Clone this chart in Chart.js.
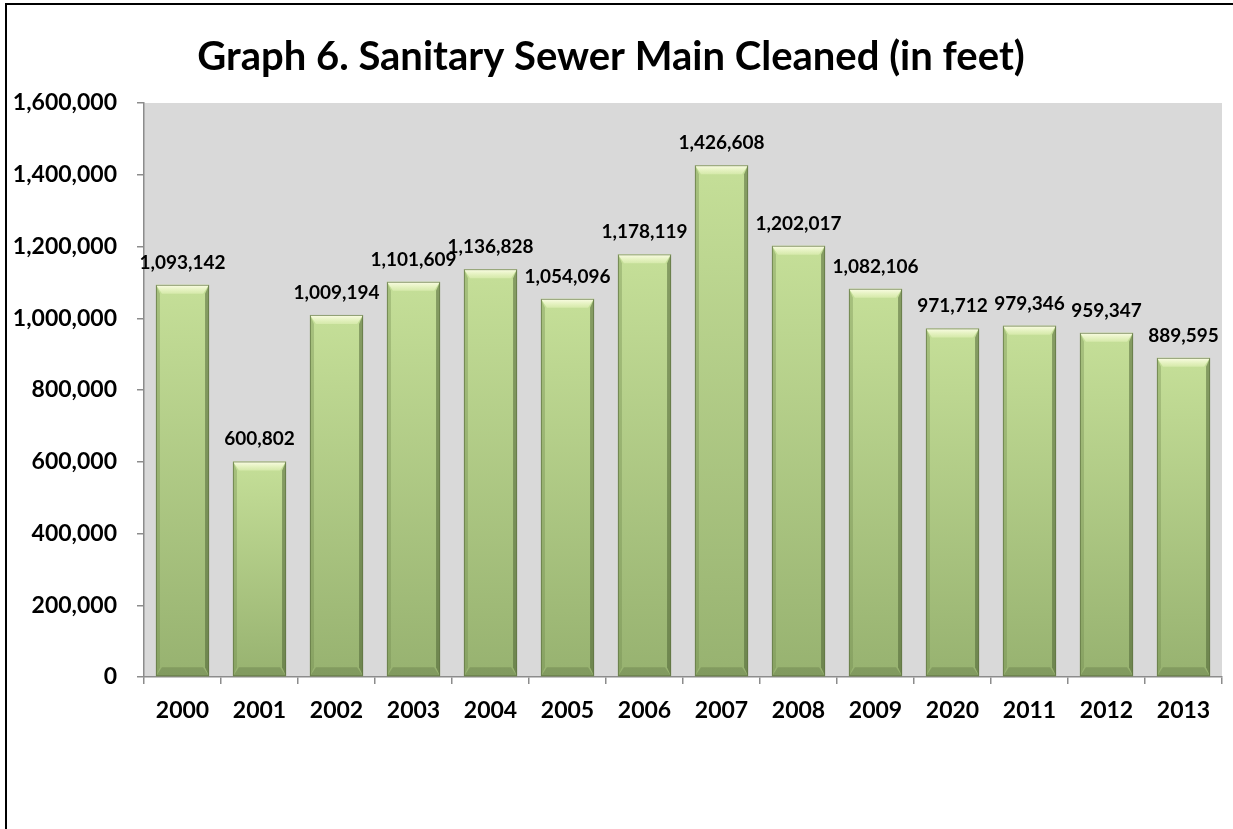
<!DOCTYPE html>
<html>
<head>
<meta charset="utf-8">
<script src="https://cdn.jsdelivr.net/npm/chart.js@4"></script>
<style>
  body { margin: 0; background: #fff; }
  #wrap { position: relative; width: 1233px; height: 829px; overflow: hidden; }
  #frame { position: absolute; left: 5px; top: 3px; width: 1300px; height: 900px;
           border-left: 2px solid #000; border-top: 2px solid #000; pointer-events: none; }
  canvas { position: absolute; left: 0; top: 0; }
</style>
</head>
<body>
<div id="wrap">
  <canvas id="chart" width="1233" height="829"></canvas>
  <div id="frame"></div>
</div>
<script>
const years = ["2000","2001","2002","2003","2004","2005","2006","2007","2008","2009","2020","2011","2012","2013"];
const feetCleaned = [1093142, 600802, 1009194, 1101609, 1136828, 1054096, 1178119, 1426608, 1202017, 1082106, 971712, 979346, 959347, 889595];
const yTicks = [0, 200000, 400000, 600000, 800000, 1000000, 1200000, 1400000, 1600000];

const FONT = "Lato";
const fmt = v => v.toLocaleString("en-US");

// gray plot background
const plotBg = {
  id: "plotBg",
  beforeDraw(chart){
    const {ctx, chartArea:a} = chart;
    ctx.save();
    ctx.fillStyle = "#d9d9d9";
    ctx.fillRect(a.left, a.top, a.right - a.left, a.bottom - a.top);
    ctx.restore();
  }
};

// bevel shading on each bar + value labels above
const bevel = {
  id: "bevel",
  afterDatasetsDraw(chart){
    const ctx = chart.ctx;
    const meta = chart.getDatasetMeta(0);
    ctx.save();
    meta.data.forEach((bar, i) => {
      const p = bar.getProps(["x","y","base","width"], true);
      const l = p.x - p.width/2, r = p.x + p.width/2, t = p.y, b = p.base;
      const s = 6, h = 9;

      // top highlight
      let g = ctx.createLinearGradient(0, t, 0, t + h);
      g.addColorStop(0, "rgba(255,255,235,0.95)");
      g.addColorStop(1, "rgba(240,250,200,0.4)");
      ctx.fillStyle = g;
      ctx.beginPath();
      ctx.moveTo(l, t); ctx.lineTo(r, t); ctx.lineTo(r - s, t + h); ctx.lineTo(l + s, t + h);
      ctx.closePath(); ctx.fill();

      // left edge
      ctx.fillStyle = "rgba(110,135,75,0.35)";
      ctx.beginPath();
      ctx.moveTo(l, t); ctx.lineTo(l + 4, t + h); ctx.lineTo(l + 4, b - h); ctx.lineTo(l, b);
      ctx.closePath(); ctx.fill();

      // right edge
      ctx.fillStyle = "rgba(70,90,45,0.5)";
      ctx.beginPath();
      ctx.moveTo(r, t); ctx.lineTo(r - 4, t + h); ctx.lineTo(r - 4, b - h); ctx.lineTo(r, b);
      ctx.closePath(); ctx.fill();

      // bottom bevel
      ctx.fillStyle = "rgba(80,100,55,0.3)";
      ctx.beginPath();
      ctx.moveTo(l, b); ctx.lineTo(l + s, b - h); ctx.lineTo(r - s, b - h); ctx.lineTo(r, b);
      ctx.closePath(); ctx.fill();

      // outline
      ctx.strokeStyle = "rgba(95,115,65,0.7)";
      ctx.lineWidth = 1;
      ctx.strokeRect(l + 0.5, t + 0.5, p.width - 1, b - t - 1);

      // value label
      ctx.fillStyle = "#000";
      ctx.font = "bold 19px " + FONT;
      ctx.textAlign = "center";
      ctx.textBaseline = "alphabetic";
      ctx.fillText(fmt(feetCleaned[i]), p.x, t - 16);
    });
    ctx.restore();
  }
};

new Chart(document.getElementById("chart"), {
  type: "bar",
  data: {
    labels: years,
    datasets: [{
      data: feetCleaned,
      backgroundColor: c => {
        const chart = c.chart;
        if (!chart.chartArea || !c.parsed) return "#b3cd8a";
        const y0 = chart.scales.y.getPixelForValue(c.parsed.y);
        const y1 = chart.scales.y.getPixelForValue(0);
        const g = chart.ctx.createLinearGradient(0, y0, 0, y1);
        g.addColorStop(0, "#c5df98");
        g.addColorStop(1, "#97b270");
        return g;
      },
      borderWidth: 0,
      barPercentage: 0.69,
      categoryPercentage: 1
    }]
  },
  options: {
    responsive: false,
    animation: false,
    layout: { padding: { left: 0, right: 11, top: 0, bottom: 0 } },
    plugins: {
      legend: { display: false },
      tooltip: { enabled: false },
      title: {
        display: true,
        text: "Graph 6. Sanitary Sewer Main Cleaned (in feet)",
        color: "#000",
        font: { family: FONT, size: 40, weight: "bold" },
        padding: { top: 33, bottom: 22 }
      }
    },
    scales: {
      x: {
        afterFit: s => { s.height = 152; },
        grid: { offset: true, drawOnChartArea: false, drawTicks: true, tickLength: 7, color: "#8c8c8c", lineWidth: 1.5 },
        border: { color: "#8c8c8c", width: 1.5 },
        ticks: { color: "#000", padding: 13, font: { family: FONT, size: 23, weight: "bold" } }
      },
      y: {
        min: 0,
        max: 1600000,
        afterFit: s => { s.width = 144; },
        afterBuildTicks: s => { s.ticks = yTicks.map(v => ({ value: v })); },
        grid: { drawOnChartArea: false, drawTicks: true, tickLength: 7, color: "#8c8c8c", lineWidth: 1.5 },
        border: { color: "#8c8c8c", width: 1.5 },
        ticks: { color: "#000", padding: 20, callback: v => fmt(v), font: { family: FONT, size: 23, weight: "bold" } }
      }
    }
  },
  plugins: [plotBg, bevel]
});
</script>
</body>
</html>
